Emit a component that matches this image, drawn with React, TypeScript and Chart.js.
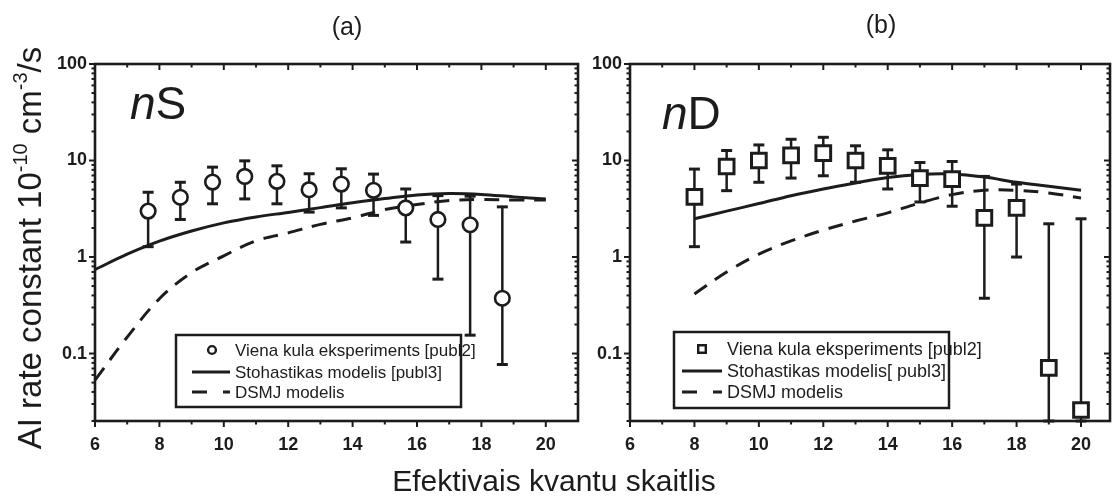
import React, { useEffect, useRef } from "react";
import { Chart, registerables } from "chart.js";

Chart.register(...registerables);

const INK = "#1c1c1c";
const FONT = "'Liberation Sans', Arial, Helvetica, sans-serif";

// ---------- axes ----------
const xTickValues = [6, 8, 10, 12, 14, 16, 18, 20];
const xMinorValues = [7, 9, 11, 13, 15, 17, 19];
const yTickValues = [0.1, 1, 10, 100];
const yMinorValues = [
  0.02, 0.03, 0.04, 0.05, 0.06, 0.07, 0.08, 0.09,
  0.2, 0.3, 0.4, 0.5, 0.6, 0.7, 0.8, 0.9,
  2, 3, 4, 5, 6, 7, 8, 9,
  20, 30, 40, 50, 60, 70, 80, 90,
];

// ---------- panel (a) nS ----------
const sExpX = [7.65, 8.65, 9.65, 10.65, 11.65, 12.65, 13.65, 14.65, 15.65, 16.65, 17.65, 18.65];
const sExpY = [2.99, 4.16, 5.98, 6.84, 6.08, 4.99, 5.7, 4.91, 3.23, 2.45, 2.16, 0.374];
const sExpHi = [4.69, 5.95, 8.54, 9.92, 8.81, 7.29, 8.21, 7.23, 5.07, 4.33, 4.27, 3.31];
const sExpLo = [1.28, 2.45, 3.56, 4.0, 3.56, 2.92, 3.23, 2.7, 1.43, 0.59, 0.155, 0.077];
const sModelX = [6, 7, 8, 9, 10, 11, 12, 13, 14, 15, 16, 17, 18, 19, 20];
const sStochY = [0.74, 1.07, 1.46, 1.86, 2.26, 2.6, 2.9, 3.25, 3.65, 4.03, 4.4, 4.54, 4.45, 4.2, 4.0];
const sDsmjY = [0.053, 0.148, 0.37, 0.69, 1.03, 1.47, 1.78, 2.18, 2.55, 3.1, 3.5, 3.85, 3.94, 3.9, 3.9];

// ---------- panel (b) nD ----------
const dExpX = [8, 9, 10, 11, 12, 13, 14, 15, 16, 17, 18, 19, 20];
const dExpY = [4.2, 8.67, 10.0, 11.3, 11.9, 10.0, 8.81, 6.58, 6.43, 2.55, 3.23, 0.071, 0.026];
const dExpHi = [8.15, 12.7, 14.5, 16.6, 17.4, 14.2, 12.9, 9.53, 9.77, 6.84, 5.7, 2.21, 2.49];
const dExpLo = [1.28, 4.87, 5.95, 6.58, 6.95, 5.95, 5.07, 3.72, 3.36, 0.374, 1.0, 0.02, 0.02];
const dModelX = [8, 9, 10, 11, 12, 13, 14, 15, 16, 17, 18, 19, 20];
const dStochY = [2.49, 2.99, 3.58, 4.32, 5.07, 5.85, 6.68, 7.17, 7.24, 6.73, 5.95, 5.4, 4.91];
const dDsmjY = [0.414, 0.7, 1.07, 1.47, 1.9, 2.36, 2.87, 3.64, 4.43, 4.91, 4.91, 4.61, 4.09];

// ---------- texts ----------
const legendTexts = {
  a: ["Viena kula eksperiments [publ2]", "Stohastikas modelis [publ3]", "DSMJ modelis"],
  b: ["Viena kula eksperiments [publ2]", "Stohastikas modelis[ publ3]", "DSMJ modelis"],
};
const xTitle = "Efektivais kvantu skaitlis";

type Panel = {
  key: "a" | "b";
  offsetX: number;
  canvasW: number;
  area: { left: number; right: number; top: number; bottom: number };
  xMax: number;
  expX: number[];
  expY: number[];
  expHi: number[];
  expLo: number[];
  modelX: number[];
  stochY: number[];
  dsmjY: number[];
  marker: "circle" | "rect";
  markerR: number;
  markerW: number;
  label: [string, string];
  labelPos: { x: number; y: number };
  panelTitle: string;
  titlePos: { x: number; y: number };
  legend: { x: number; y: number; w: number; h: number; rows: number[]; sym: number; l1: number; l2: number; tx: number; size: number };
  drawShared: boolean;
};

const H = 500;

const panels: Panel[] = [
  {
    key: "a",
    offsetX: 0,
    canvasW: 1112,
    area: { left: 95, right: 578, top: 64, bottom: 421 },
    xMax: 21,
    expX: sExpX,
    expY: sExpY,
    expHi: sExpHi,
    expLo: sExpLo,
    modelX: sModelX,
    stochY: sStochY,
    dsmjY: sDsmjY,
    marker: "circle",
    markerR: 7.3,
    markerW: 2.6,
    label: ["n", "S"],
    labelPos: { x: 130, y: 119 },
    panelTitle: "(a)",
    titlePos: { x: 347, y: 35 },
    legend: { x: 176, y: 335, w: 285, h: 72, rows: [350, 372, 392], sym: 212, l1: 192, l2: 230, tx: 235, size: 17 },
    drawShared: true,
  },
  {
    key: "b",
    offsetX: 585,
    canvasW: 527,
    area: { left: 45, right: 525, top: 64, bottom: 421 },
    xMax: 20.9,
    expX: dExpX,
    expY: dExpY,
    expHi: dExpHi,
    expLo: dExpLo,
    modelX: dModelX,
    stochY: dStochY,
    dsmjY: dDsmjY,
    marker: "rect",
    markerR: 10.4,
    markerW: 3,
    label: ["n", "D"],
    labelPos: { x: 662, y: 129 },
    panelTitle: "(b)",
    titlePos: { x: 881, y: 33 },
    legend: { x: 674, y: 332, w: 275, h: 76, rows: [349, 371, 392], sym: 702, l1: 682, l2: 722, tx: 727, size: 18 },
    drawShared: false,
  },
];

const TICK_FONT = `bold 18px ${FONT}`;

function line(ctx: CanvasRenderingContext2D, x1: number, y1: number, x2: number, y2: number) {
  ctx.beginPath();
  ctx.moveTo(x1, y1);
  ctx.lineTo(x2, y2);
  ctx.stroke();
}

function drawYTitle(ctx: CanvasRenderingContext2D, cx: number, cy: number, size: number) {
  const parts = [
    { t: "AI rate constant 10", sup: false },
    { t: "-10", sup: true },
    { t: " cm", sup: false },
    { t: "-3", sup: true },
    { t: "/s", sup: false },
  ];
  const supSize = Math.round(size * 0.62);
  const widths = parts.map((p) => {
    ctx.font = `${p.sup ? supSize : size}px ${FONT}`;
    return ctx.measureText(p.t).width;
  });
  const total = widths.reduce((a, b) => a + b, 0);
  ctx.save();
  ctx.translate(cx, cy);
  ctx.rotate(-Math.PI / 2);
  ctx.textBaseline = "alphabetic";
  ctx.textAlign = "left";
  let x = -total / 2;
  parts.forEach((p, i) => {
    ctx.font = `${p.sup ? supSize : size}px ${FONT}`;
    ctx.fillText(p.t, x, p.sup ? -size * 0.42 : 0);
    x += widths[i];
  });
  ctx.restore();
}

function makePlugins(p: Panel) {
  const ox = p.offsetX;
  const errorBars = {
    id: "errorBars" + p.key,
    beforeDatasetsDraw(chart: any) {
      const { ctx, scales } = chart;
      const xs = scales.x;
      const ys = scales.y;
      ctx.save();
      ctx.strokeStyle = INK;
      const cap = 5.5;
      p.expX.forEach((xv, i) => {
        const px = xs.getPixelForValue(xv);
        const top = ys.getPixelForValue(p.expHi[i]);
        const bot = ys.getPixelForValue(p.expLo[i]);
        ctx.lineWidth = 2.5;
        line(ctx, px, top, px, bot);
        ctx.lineWidth = 3;
        line(ctx, px - cap, top, px + cap, top);
        line(ctx, px - cap, bot, px + cap, bot);
      });
      ctx.restore();
    },
  };
  const frame = {
    id: "frame" + p.key,
    afterDraw(chart: any) {
      const { ctx, chartArea: a, scales } = chart;
      const xs = scales.x;
      const ys = scales.y;
      ctx.save();
      ctx.strokeStyle = INK;
      ctx.lineWidth = 2.6;
      ctx.strokeRect(a.left, a.top, a.right - a.left, a.bottom - a.top);
      ctx.lineWidth = 2;
      const major = 6;
      const minor = 3.5;
      xTickValues.forEach((v) => {
        const px = xs.getPixelForValue(v);
        line(ctx, px, a.bottom, px, a.bottom + major);
        line(ctx, px, a.top, px, a.top + major);
      });
      xMinorValues.forEach((v) => {
        const px = xs.getPixelForValue(v);
        line(ctx, px, a.bottom, px, a.bottom + minor);
        line(ctx, px, a.top, px, a.top + minor);
      });
      yTickValues.forEach((v) => {
        const py = ys.getPixelForValue(v);
        line(ctx, a.left - major, py, a.left, py);
        line(ctx, a.right - major, py, a.right, py);
      });
      yMinorValues.forEach((v) => {
        const py = ys.getPixelForValue(v);
        line(ctx, a.left - minor, py, a.left, py);
        line(ctx, a.right - minor, py, a.right, py);
      });

      // x tick labels (drawn through the x scale)
      ctx.fillStyle = INK;
      ctx.font = TICK_FONT;
      ctx.textAlign = "center";
      ctx.textBaseline = "middle";
      xTickValues.forEach((v) => {
        ctx.fillText(String(v), xs.getPixelForValue(v), a.bottom + 24);
      });

      // legend
      const L = p.legend;
      ctx.lineWidth = 2.5;
      ctx.strokeRect(L.x - ox, L.y, L.w, L.h);
      ctx.font = `${L.size}px ${FONT}`;
      ctx.textBaseline = "middle";
      ctx.textAlign = "left";
      const texts = legendTexts[p.key];
      texts.forEach((t, i) => ctx.fillText(t, L.tx - ox, L.rows[i] + 1));
      ctx.lineWidth = 2.4;
      ctx.beginPath();
      if (p.marker === "circle") {
        ctx.arc(L.sym - ox, L.rows[0], 3.9, 0, Math.PI * 2);
      } else {
        ctx.rect(L.sym - ox - 3.8, L.rows[0] - 3.8, 7.6, 7.6);
      }
      ctx.stroke();
      ctx.lineWidth = 3;
      line(ctx, L.l1 - ox, L.rows[1], L.l2 - ox, L.rows[1]);
      ctx.setLineDash([15, 16]);
      line(ctx, L.l1 - ox, L.rows[2], L.l2 - ox, L.rows[2]);
      ctx.setLineDash([]);

      // panel label (nS / nD)
      ctx.textBaseline = "alphabetic";
      ctx.font = `italic 46px ${FONT}`;
      ctx.fillText(p.label[0], p.labelPos.x - ox, p.labelPos.y);
      const w0 = ctx.measureText(p.label[0]).width;
      ctx.font = `46px ${FONT}`;
      ctx.fillText(p.label[1], p.labelPos.x - ox + w0, p.labelPos.y);

      // panel title
      ctx.font = `25px ${FONT}`;
      ctx.textAlign = "center";
      ctx.fillText(p.panelTitle, p.titlePos.x - ox, p.titlePos.y);

      if (p.drawShared) {
        ctx.font = `30px ${FONT}`;
        ctx.textAlign = "center";
        ctx.fillText(xTitle, 554, 491);
        drawYTitle(ctx, 41, 248, 33);
      }
      ctx.restore();
    },
  };
  return [errorBars, frame];
}

function makeConfig(p: Panel): any {
  const tickFont = { family: FONT, size: 18, weight: "bold" as const };
  return {
    type: "line",
    data: {
      datasets: [
        {
          label: "exp",
          data: p.expX.map((x, i) => ({ x, y: p.expY[i] })),
          showLine: false,
          pointStyle: p.marker,
          pointRadius: p.markerR,
          pointBorderWidth: p.markerW,
          pointBorderColor: INK,
          pointBackgroundColor: "#ffffff",
          borderColor: INK,
          clip: false,
          order: 0,
        },
        {
          label: "stoch",
          data: p.modelX.map((x, i) => ({ x, y: p.stochY[i] })),
          borderColor: INK,
          borderWidth: 3,
          pointRadius: 0,
          tension: 0.35,
          fill: false,
          order: 2,
        },
        {
          label: "dsmj",
          data: p.modelX.map((x, i) => ({ x, y: p.dsmjY[i] })),
          borderColor: INK,
          borderWidth: 3,
          borderDash: [15, 10],
          pointRadius: 0,
          tension: 0.35,
          fill: false,
          order: 1,
        },
      ],
    },
    options: {
      animation: false,
      responsive: false,
      maintainAspectRatio: false,
      events: [],
      layout: {
        autoPadding: false,
        padding: { top: p.area.top, right: p.canvasW - p.area.right, bottom: 0, left: 0 },
      },
      plugins: { legend: { display: false }, tooltip: { enabled: false }, title: { display: false } },
      scales: {
        x: {
          type: "linear",
          min: 6,
          max: p.xMax,
          afterBuildTicks: (s: any) => {
            s.ticks = xTickValues.map((v) => ({ value: v }));
          },
          afterFit: (s: any) => {
            s.height = H - p.area.bottom;
          },
          grid: { display: false, drawTicks: false },
          border: { display: false },
          ticks: { display: false },
        },
        y: {
          type: "logarithmic",
          min: 0.02,
          max: 100,
          afterBuildTicks: (s: any) => {
            s.ticks = yTickValues.map((v) => ({ value: v }));
          },
          afterFit: (s: any) => {
            s.width = p.area.left;
          },
          grid: { display: false, drawTicks: false },
          border: { display: false },
          ticks: { padding: 8, color: INK, font: tickFont, autoSkip: false, callback: (v: any) => String(v) },
        },
      },
    },
    plugins: makePlugins(p),
  };
}

export default function App() {
  const refA = useRef<HTMLCanvasElement | null>(null);
  const refB = useRef<HTMLCanvasElement | null>(null);

  useEffect(() => {
    document.body.style.margin = "0";
    const charts: Chart[] = [];
    [refA.current, refB.current].forEach((c, i) => {
      if (c) charts.push(new Chart(c, makeConfig(panels[i])));
    });
    return () => charts.forEach((ch) => ch.destroy());
  }, []);

  return (
    <div style={{ position: "relative", width: 1112, height: H, background: "#fff" }}>
      <canvas
        ref={refA}
        width={panels[0].canvasW}
        height={H}
        style={{ position: "absolute", left: panels[0].offsetX, top: 0, width: panels[0].canvasW, height: H }}
      />
      <canvas
        ref={refB}
        width={panels[1].canvasW}
        height={H}
        style={{ position: "absolute", left: panels[1].offsetX, top: 0, width: panels[1].canvasW, height: H }}
      />
    </div>
  );
}
